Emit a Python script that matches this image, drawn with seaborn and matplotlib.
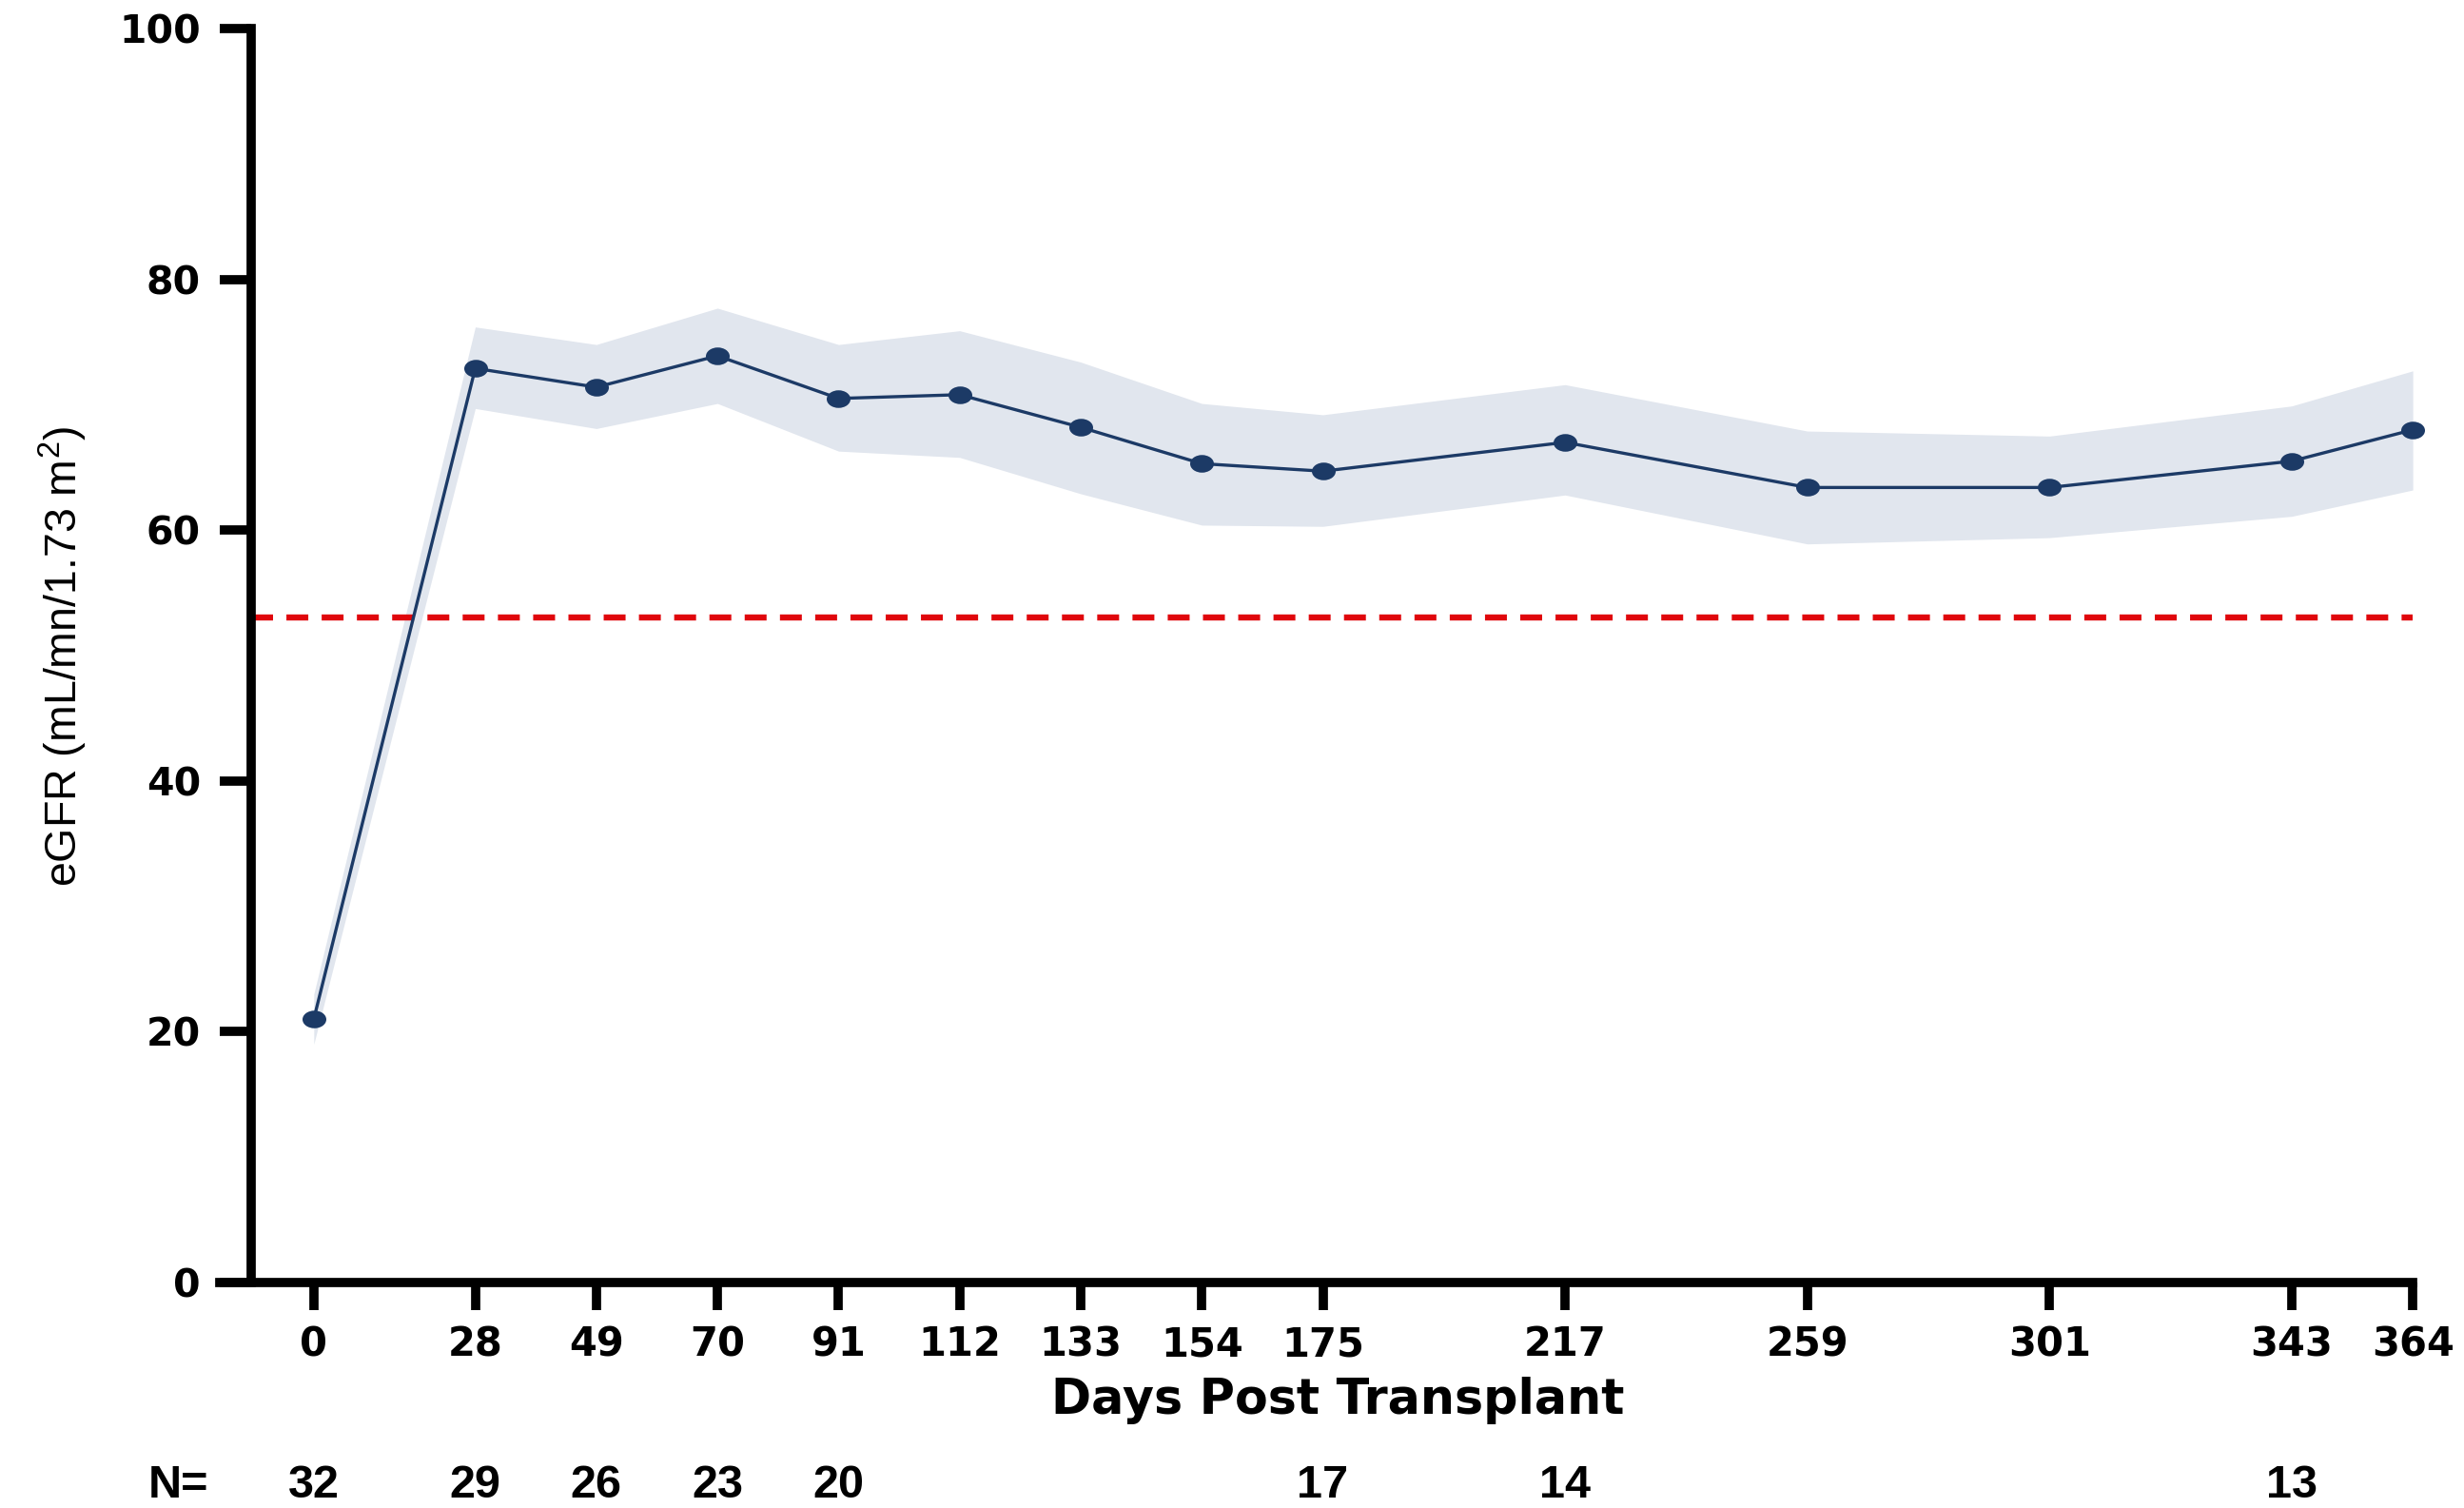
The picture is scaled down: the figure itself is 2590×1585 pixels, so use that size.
import numpy as np
import pandas as pd
import seaborn as sns
import matplotlib.pyplot as plt
from matplotlib.path import Path
from matplotlib.transforms import Affine2D, blended_transform_factory

# values
days = [0, 28, 49, 70, 91, 112, 133, 154, 175, 217, 259, 301, 343, 364]
egfr_mean = [21.0, 72.9, 71.4, 73.9, 70.5, 70.8, 68.2, 65.3, 64.7, 67.0, 63.4, 63.4, 65.5, 68.0]
ci_upper = [23.0, 76.2, 74.8, 77.7, 74.8, 75.9, 73.4, 70.1, 69.2, 71.6, 67.9, 67.5, 69.9, 72.7]
ci_lower = [19.0, 69.7, 68.1, 70.1, 66.3, 65.8, 62.9, 60.4, 60.3, 62.8, 58.9, 59.4, 61.1, 63.2]
threshold = 53
n_days = [0, 28, 49, 70, 91, 175, 217, 343]
n_counts = [32, 29, 26, 23, 20, 17, 14, 13]
y_ticks = [0, 20, 40, 60, 80, 100]

navy = '#1c3a66'
band = '#e1e6ee'
red = '#e0060c'

sns.set_theme(style='ticks')
plt.rcParams['font.family'] = ['DejaVu Sans']
plt.rcParams['text.color'] = 'black'
plt.rcParams['axes.labelcolor'] = 'black'
plt.rcParams['xtick.color'] = 'black'
plt.rcParams['ytick.color'] = 'black'

df = pd.DataFrame({'day': days, 'egfr': egfr_mean})

fig = plt.figure(figsize=(25.9, 15.85), dpi=100)
ax = fig.add_axes([0.0892, 0.1495, 0.8900, 0.8316])

ax.fill_between(days, ci_lower, ci_upper, color=band, lw=0, zorder=1)
ax.axhline(threshold, xmin=0.0143, xmax=1, color=red, lw=4.6,
           dashes=(3.6, 2.2), dash_capstyle='butt', zorder=2)

ellipse = Path.unit_circle().transformed(Affine2D().scale(1.35, 1.0))
sns.lineplot(data=df, x='day', y='egfr', ax=ax, color=navy, lw=2.4,
             marker=ellipse, markersize=18, markeredgecolor=navy,
             markeredgewidth=0, zorder=3, clip_on=False)

ax.set_xlim(-16.3, 364)
ax.set_ylim(0, 100)
ax.set_xticks(days)
ax.set_yticks(y_ticks)

for s in ['top', 'right']:
    ax.spines[s].set_visible(False)
ax.spines['left'].set_position(('data', -10.9))
ax.spines['left'].set_linewidth(7)
ax.spines['bottom'].set_linewidth(7)
ax.spines['left'].set_color('black')
ax.spines['bottom'].set_color('black')

ax.tick_params(axis='x', length=21, width=7, pad=11, labelsize=30, color='black',
               labelcolor='black')
ax.tick_params(axis='y', length=24, width=7, pad=14, labelsize=29.5, color='black',
               labelcolor='black')
plt.setp(ax.get_xticklabels(), fontweight='bold')
plt.setp(ax.get_yticklabels(), fontweight='heavy')

ax.set_xlabel('Days Post Transplant', fontsize=36.5, fontweight='bold')
ax.xaxis.set_label_coords(0.5098, -0.094)
ax.xaxis.label.set_va('center')

ax.set_ylabel('eGFR (mL/mn/1.73 m$\\mathregular{^2}$)', fontsize=33.5,
              family=['Liberation Sans', 'DejaVu Sans'])
ax.yaxis.set_label_coords(-0.0716, 0.4992)
ax.yaxis.label.set_va('center')

# numbers at risk under the axis
trans = blended_transform_factory(ax.transData, fig.transFigure)
ax.text(-23.4, 0.0151, 'N=', transform=trans, ha='center', va='center',
        fontsize=35, fontweight='bold', family=['Liberation Sans', 'DejaVu Sans'],
        clip_on=False)
for d, n in zip(n_days, n_counts):
    ax.text(d, 0.0151, str(n), transform=trans, ha='center', va='center',
            fontsize=35, fontweight='bold', family=['Liberation Sans', 'DejaVu Sans'],
            clip_on=False)

fig.savefig('out.png', dpi=100)
